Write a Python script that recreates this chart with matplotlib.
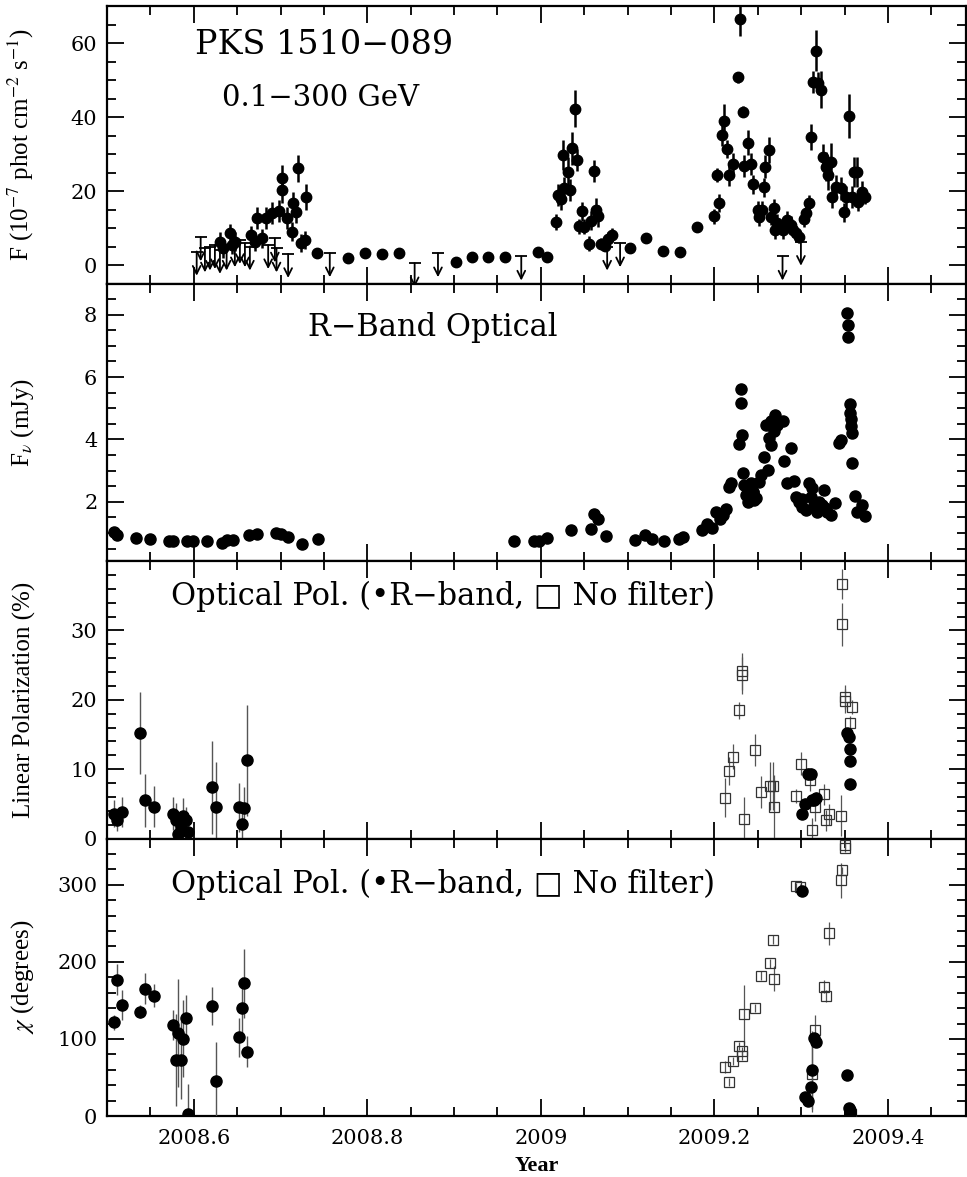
import matplotlib
matplotlib.use("Agg")
import matplotlib.pyplot as plt
from matplotlib.ticker import MultipleLocator, FixedLocator
import numpy as np

# ---------------- DATA ----------------
# Panel 1: gamma-ray flux detections (10^-7 phot cm^-2 s^-1)
gam_year = [2008.6301, 2008.6339, 2008.6416, 2008.6435, 2008.6473, 2008.6654, 2008.6704, 2008.6723,
            2008.6781, 2008.6827, 2008.6896, 2008.6983, 2008.7011, 2008.7022, 2008.7069, 2008.7126,
            2008.7145, 2008.7176, 2008.7204, 2008.7241, 2008.7279, 2008.7288, 2008.7414, 2008.7778,
            2008.7978, 2008.8174, 2008.8361, 2008.9017, 2008.9210, 2008.9389, 2008.9585, 2008.9965,
            2009.0071, 2009.0174, 2009.0195, 2009.0237, 2009.0252, 2009.0272, 2009.0310, 2009.0338,
            2009.0361, 2009.0395, 2009.0416, 2009.0445, 2009.0473, 2009.0502, 2009.0552, 2009.0583,
            2009.0609, 2009.0637, 2009.0655, 2009.0694, 2009.0744, 2009.0778, 2009.0821, 2009.1032,
            2009.1216, 2009.1403, 2009.1601, 2009.1795, 2009.1999, 2009.2025, 2009.2056, 2009.2083,
            2009.2106, 2009.2140, 2009.2163, 2009.2209, 2009.2275, 2009.2298, 2009.2324, 2009.2344,
            2009.2382, 2009.2421, 2009.2439, 2009.2497, 2009.2517, 2009.2548, 2009.2574, 2009.2586,
            2009.2624, 2009.2651, 2009.2689, 2009.2701, 2009.2727, 2009.2785, 2009.2842, 2009.2881,
            2009.2908, 2009.2939, 2009.2977, 2009.3035, 2009.3061, 2009.3092, 2009.3115, 2009.3138,
            2009.3169, 2009.3199, 2009.3227, 2009.3253, 2009.3284, 2009.3314, 2009.3342, 2009.3360,
            2009.3399, 2009.3457, 2009.3495, 2009.3515, 2009.3552, 2009.3584, 2009.3610, 2009.3648,
            2009.3660, 2009.3706, 2009.3737]
gam_flux = [6.3, 4.5, 8.6, 5.4, 6.3, 8.1, 6.3, 12.6,
            7.2, 12.6, 14.0, 14.6, 20.3, 23.4, 12.6, 9.0,
            16.7, 14.4, 26.1, 5.9, 6.8, 18.3, 3.2, 1.8,
            3.2, 3.0, 3.2, 0.9, 2.1, 2.1, 2.2, 3.5,
            2.2, 11.7, 18.9, 17.8, 29.7, 20.7, 25.2, 20.3,
            31.5, 42.2, 28.3, 10.5, 14.5, 10.4, 5.8, 12.0,
            25.5, 15.0, 13.3, 5.8, 5.2, 7.0, 8.1, 4.5,
            7.2, 3.9, 3.4, 10.2, 13.2, 24.3, 16.8, 35.1,
            38.9, 31.3, 24.3, 27.2, 50.7, 66.5, 41.4, 26.8,
            33.1, 27.3, 21.8, 14.9, 13.1, 14.9, 21.0, 26.6,
            31.1, 12.9, 15.3, 9.5, 11.3, 9.5, 12.2, 10.8,
            9.5, 8.6, 7.5, 12.4, 14.1, 16.8, 34.7, 49.5,
            57.9, 49.1, 47.3, 29.3, 26.6, 24.3, 27.9, 18.3,
            21.2, 20.7, 14.2, 18.3, 40.3, 18.3, 25.2, 25.2,
            17.1, 19.8, 18.5]
gam_err = [2.5, 2.5, 2.5, 2.5, 2.5, 2.5, 2.5, 3.0,
           2.5, 3.0, 3.0, 3.0, 3.5, 3.5, 3.0, 2.5,
           3.0, 3.0, 3.6, 2.5, 2.5, 3.5, 1.0, 0.8,
           0.8, 0.8, 0.8, 0.8, 0.8, 0.8, 0.8, 0.8,
           0.8, 2.2, 3.0, 3.0, 4.0, 3.0, 4.0, 3.0,
           4.5, 5.0, 3.0, 2.0, 2.5, 2.0, 2.0, 2.5,
           3.0, 3.0, 3.0, 1.5, 1.5, 2.0, 2.0, 1.0,
           1.0, 1.0, 1.0, 1.0, 2.0, 2.0, 2.5, 3.0,
           4.5, 2.5, 3.0, 3.0, 1.5, 4.5, 1.5, 3.0,
           3.5, 3.0, 2.5, 2.5, 2.5, 2.5, 2.5, 3.0,
           3.5, 2.0, 2.5, 2.5, 2.5, 2.5, 2.5, 2.5,
           2.0, 2.0, 1.5, 2.0, 2.0, 2.0, 3.5, 3.0,
           5.5, 3.0, 5.0, 3.5, 4.0, 4.0, 5.0, 3.0,
           3.0, 3.0, 2.5, 3.0, 6.0, 3.0, 4.0, 4.0,
           2.5, 3.0, 2.0]
# Panel 1: gamma-ray upper limits
ul_year = [2008.6033, 2008.6079, 2008.6128, 2008.6186, 2008.6243, 2008.6301, 2008.6378, 2008.6473,
           2008.6531, 2008.6589, 2008.6646, 2008.6857, 2008.6934, 2008.6953, 2008.7087, 2008.7567,
           2008.8545, 2008.8814, 2008.9774, 2009.0764, 2009.0913, 2009.2785, 2009.2997]
ul_flux = [3.6, 7.5, 4.5, 5.0, 5.4, 4.1, 5.0, 5.9,
           6.8, 5.9, 5.0, 5.4, 7.2, 4.5, 3.0, 3.2,
           0.5, 3.2, 2.3, 5.0, 5.9, 2.3, 6.3]

# Panel 2: R-band optical flux density (mJy)
opt_year = [2008.5078, 2008.5111, 2008.5334, 2008.5493, 2008.5714, 2008.5760, 2008.5925, 2008.5989,
            2008.6148, 2008.6320, 2008.6384, 2008.6447, 2008.6638, 2008.6734, 2008.6944, 2008.7008,
            2008.7083, 2008.7244, 2008.7435, 2008.9694, 2008.9917, 2008.9981, 2009.0076, 2009.0350,
            2009.0572, 2009.0617, 2009.0662, 2009.0745, 2009.1082, 2009.1203, 2009.1286, 2009.1414,
            2009.1591, 2009.1636, 2009.1857, 2009.1910, 2009.1972, 2009.2018, 2009.2064, 2009.2094,
            2009.2133, 2009.2171, 2009.2191, 2009.2286, 2009.2306, 2009.2306, 2009.2318, 2009.2324,
            2009.2344, 2009.2364, 2009.2382, 2009.2421, 2009.2439, 2009.2459, 2009.2479, 2009.2400,
            2009.2450, 2009.2517, 2009.2536, 2009.2574, 2009.2594, 2009.2612, 2009.2632, 2009.2651,
            2009.2651, 2009.2689, 2009.2701, 2009.2727, 2009.2785, 2009.2805, 2009.2842, 2009.2881,
            2009.2920, 2009.2939, 2009.2977, 2009.3015, 2009.3054, 2009.3092, 2009.3112, 2009.3130,
            2009.3150, 2009.3188, 2009.3245, 2009.3265, 2009.3303, 2009.3342, 2009.3391, 2009.3437,
            2009.3457, 2009.3533, 2009.3541, 2009.3541, 2009.3561, 2009.3561, 2009.3572, 2009.3572,
            2009.3591, 2009.3591, 2009.3622, 2009.3648, 2009.3706, 2009.3733, 2009.3010, 2009.3210,
            2009.3280]
opt_flux = [1.03, 0.93, 0.85, 0.80, 0.73, 0.73, 0.75, 0.75,
            0.73, 0.69, 0.76, 0.79, 0.92, 0.96, 1.01, 0.96,
            0.87, 0.65, 0.81, 0.74, 0.74, 0.74, 0.85, 1.09,
            1.12, 1.62, 1.44, 0.90, 0.76, 0.92, 0.81, 0.74,
            0.81, 0.87, 1.09, 1.30, 1.17, 1.68, 1.46, 1.57,
            1.78, 2.48, 2.59, 3.85, 5.62, 5.17, 4.15, 2.91,
            2.54, 2.21, 2.00, 2.59, 2.32, 2.05, 2.11, 2.45,
            2.30, 2.65, 2.86, 3.45, 4.47, 3.02, 4.04, 4.58,
            3.83, 4.26, 4.77, 4.47, 4.58, 3.31, 2.59, 3.72,
            2.67, 2.16, 2.00, 1.84, 1.73, 2.59, 2.16, 2.43,
            1.89, 1.68, 1.89, 2.38, 1.68, 1.57, 1.95, 3.88,
            3.99, 8.05, 7.67, 7.29, 5.12, 4.85, 4.64, 4.42,
            4.20, 3.24, 2.19, 1.68, 1.89, 1.55, 2.10, 2.00,
            1.80]

# Panels 3-4: R-band polarization (filled circles)
rpol_year = [2008.5081, 2008.5112, 2008.5169, 2008.5380, 2008.5437, 2008.5544, 2008.5763, 2008.5794,
             2008.5821, 2008.5848, 2008.5878, 2008.5906, 2008.5929, 2008.6205, 2008.6255, 2008.6523,
             2008.6550, 2008.6577, 2008.6608,
             2009.3015, 2009.3046, 2009.3073, 2009.3112, 2009.3123, 2009.3150, 2009.3169, 2009.3526,
             2009.3552, 2009.3561, 2009.3561, 2009.3567]
rpol_p = [3.6, 2.6, 3.8, 15.2, 5.5, 4.6, 3.6, 2.6,
          0.7, 1.6, 3.3, 2.6, 1.0, 7.4, 4.6, 4.5,
          2.1, 4.4, 11.3,
          3.6, 5.0, 9.3, 9.3, 5.6, 5.6, 5.9, 15.2,
          14.6, 12.9, 11.2, 7.8]
rpol_p_err = [2.0, 1.5, 2.2, 5.9, 3.8, 3.0, 2.4, 2.5,
              1.5, 2.0, 2.5, 2.0, 2.0, 6.7, 6.5, 3.5,
              2.5, 3.0, 8.0,
              0.8, 0.8, 0.8, 0.8, 0.8, 0.8, 0.8, 0.8,
              0.8, 0.8, 0.8, 0.8]
rpol_chi = [121.7, 176.6, 144.0, 135.5, 165.0, 155.8, 118.0, 72.7,
            108.0, 72.7, 100.0, 126.8, 2.2, 142.9, 45.9, 102.0,
            139.8, 172.3, 83.5,
            292.0, 25.0, 19.9, 37.3, 59.7, 101.0, 96.5, 53.2,
            10.0, 5.6, 8.0, 3.0]
rpol_chi_err = [10, 20, 20, 8, 20, 15, 20, 60,
                70, 50, 50, 30, 40, 25, 50, 25,
                40, 45, 20,
                5, 5, 5, 5, 50, 5, 5, 5,
                5, 5, 5, 5]

# Panel 3: no-filter polarization degree (open squares)
nf_p_year = [2009.2125, 2009.2171, 2009.2209, 2009.2278, 2009.2318, 2009.2318, 2009.2344, 2009.2471,
             2009.2536, 2009.2640, 2009.2670, 2009.2689, 2009.2939, 2009.2997, 2009.3100, 2009.3130,
             2009.3158, 2009.3265, 2009.3284, 2009.3322, 2009.3457, 2009.3475, 2009.3475, 2009.3507,
             2009.3507, 2009.3561, 2009.3591]
nf_p = [5.9, 9.7, 11.8, 18.5, 24.1, 23.5, 2.8, 12.8,
        6.7, 7.6, 7.6, 4.5, 6.1, 10.8, 8.4, 1.2,
        4.5, 6.4, 2.6, 3.5, 3.3, 36.7, 30.9, 20.4,
        19.8, 16.6, 18.9]
nf_p_err = [2.8, 2.0, 1.8, 1.2, 2.7, 2.7, 3.2, 2.3,
            2.3, 3.5, 3.5, 4.7, 1.0, 1.6, 1.5, 1.8,
            2.0, 1.5, 1.5, 1.5, 3.0, 2.2, 3.1, 1.7,
            1.7, 1.0, 1.0]
# Panel 4: no-filter polarization angle (open squares)
nf_chi_year = [2009.2125, 2009.2171, 2009.2209, 2009.2278, 2009.2318, 2009.2318, 2009.2344, 2009.2471,
               2009.2536, 2009.2640, 2009.2670, 2009.2689, 2009.2939, 2009.2985, 2009.3130, 2009.3158,
               2009.3265, 2009.3291, 2009.3322, 2009.3457, 2009.3475, 2009.3507, 2009.3507, 2009.3572]
nf_chi = [64.0, 43.8, 71.8, 90.9, 84.8, 78.0, 132.0, 139.8,
          182.2, 198.3, 228.6, 178.0, 297.8, 297.0, 55.0, 111.7,
          168.0, 156.0, 237.0, 305.6, 318.6, 352.0, 348.0, 2.6]
nf_chi_err = [8, 5, 5, 5, 5, 5, 38, 5,
              6, 6, 6, 16, 4, 4, 50, 20,
              8, 8, 15, 23, 5, 5, 5, 3]

# ---------------- PLOT ----------------
plt.rcParams['mathtext.fontset'] = 'stix'
fig = plt.figure(figsize=(9.67, 11.77), dpi=100)
left, right, top, bottom = 0.1107, 0.999, 0.9949, 0.0518
gs = fig.add_gridspec(4, 1, left=left, right=right, top=top, bottom=bottom, hspace=0)
axes = [fig.add_subplot(gs[i]) for i in range(4)]
for a in axes[1:]:
    a.sharex(axes[0])

TICKFONT = 'DejaVu Serif'
LABFONT = 'Liberation Serif'

for a in axes:
    a.set_xlim(2008.5, 2009.49)
    a.xaxis.set_major_locator(MultipleLocator(0.2))
    a.xaxis.set_minor_locator(MultipleLocator(0.05))
    a.tick_params(which='both', direction='in', top=True, right=True, width=1.3)
    a.tick_params(which='major', length=12)
    a.tick_params(which='minor', length=6.5)
    a.tick_params(axis='y', which='major', pad=7, labelsize=15)
    a.tick_params(axis='x', which='major', pad=9, labelsize=15)
    for s in a.spines.values():
        s.set_linewidth(1.6)
for a in axes[:-1]:
    a.tick_params(labelbottom=False)

# Panel 1
ax = axes[0]
ax.errorbar(gam_year, gam_flux, yerr=gam_err, fmt='o', ms=7.5, color='k',
            elinewidth=1.8, capsize=0, zorder=3)
arrow_len = 6.5
ax.plot(ul_year, ul_flux, '_', ms=9, mew=1.3, color='k', zorder=3)
for xu, yu in zip(ul_year, ul_flux):
    ax.annotate('', xy=(xu, yu - arrow_len), xytext=(xu, yu),
                arrowprops=dict(arrowstyle='->', lw=1.3, color='k',
                                shrinkA=0, shrinkB=0, mutation_scale=14),
                annotation_clip=False, zorder=3)
ax.set_ylim(-5, 70)
ax.yaxis.set_major_locator(FixedLocator([0, 20, 40, 60]))
ax.yaxis.set_minor_locator(MultipleLocator(5))
ax.set_ylabel(r"F (10$^{-7}$ phot cm$^{-2}$ s$^{-1}$)", family=LABFONT, fontsize=18)
ax.text(0.2526, 0.859, "PKS 1510\u2212089", transform=ax.transAxes, ha='center', va='center',
        family='DejaVu Serif', fontsize=24, fontweight='light')
ax.text(0.249, 0.668, "0.1\u2212300 GeV", transform=ax.transAxes, ha='center', va='center',
        family='DejaVu Serif', fontsize=21)

# Panel 2
ax = axes[1]
ax.plot(opt_year, opt_flux, 'o', ms=8, color='k', zorder=3)
ax.set_ylim(0.1, 9.0)
ax.yaxis.set_major_locator(FixedLocator([2, 4, 6, 8]))
ax.yaxis.set_minor_locator(MultipleLocator(0.5))
ax.set_ylabel(r"F$_\nu$ (mJy)", family=LABFONT, fontsize=18)
ax.text(0.3795, 0.841, "R\u2212Band Optical", transform=ax.transAxes, ha='center', va='center',
        family='DejaVu Serif', fontsize=22)

legend_txt = "Optical Pol. (\u2022R\u2212band, \u25A1 No filter)"

# Panel 3
ax = axes[2]
ax.errorbar(nf_p_year, nf_p, yerr=nf_p_err, fmt='s', ms=7, mfc='none', mec='#333333', mew=0.9,
            ecolor='#555555', elinewidth=0.9, capsize=0, zorder=3)
ax.errorbar(rpol_year, rpol_p, yerr=rpol_p_err, fmt='o', ms=8, color='k',
            ecolor='#555555', elinewidth=1.0, capsize=0, zorder=4)
ax.set_ylim(0, 40)
ax.yaxis.set_major_locator(FixedLocator([0, 10, 20, 30]))
ax.yaxis.set_minor_locator(MultipleLocator(2))
ax.set_ylabel("Linear Polarization (%)", family=LABFONT, fontsize=18)
ax.text(0.391, 0.871, legend_txt, transform=ax.transAxes, ha='center', va='center',
        family=['DejaVu Serif', 'DejaVu Sans'], fontsize=22)

# Panel 4
ax = axes[3]
ax.errorbar(nf_chi_year, nf_chi, yerr=nf_chi_err, fmt='s', ms=7, mfc='none', mec='#333333', mew=0.9,
            ecolor='#555555', elinewidth=0.9, capsize=0, zorder=3)
ax.errorbar(rpol_year, rpol_chi, yerr=rpol_chi_err, fmt='o', ms=8, color='k',
            ecolor='#555555', elinewidth=1.0, capsize=0, zorder=4)
ax.set_ylim(0, 360)
ax.yaxis.set_major_locator(FixedLocator([0, 100, 200, 300]))
ax.yaxis.set_minor_locator(MultipleLocator(20))
ax.set_ylabel(r"$\chi$ (degrees)", family=LABFONT, fontsize=18)
ax.text(0.391, 0.834, legend_txt, transform=ax.transAxes, ha='center', va='center',
        family=['DejaVu Serif', 'DejaVu Sans'], fontsize=22)
ax.set_xlabel("Year", family=LABFONT, fontsize=16, fontweight='bold', labelpad=6)
ax.set_xticks([2008.6, 2008.8, 2009.0, 2009.2, 2009.4])
ax.set_xticklabels(["2008.6", "2008.8", "2009", "2009.2", "2009.4"])

for a in axes:
    a.yaxis.set_label_coords(-0.083, 0.5)
    for lab in a.get_xticklabels() + a.get_yticklabels():
        lab.set_family(TICKFONT)
        lab.set_fontsize(15)

fig.savefig("out.png", dpi=100)
